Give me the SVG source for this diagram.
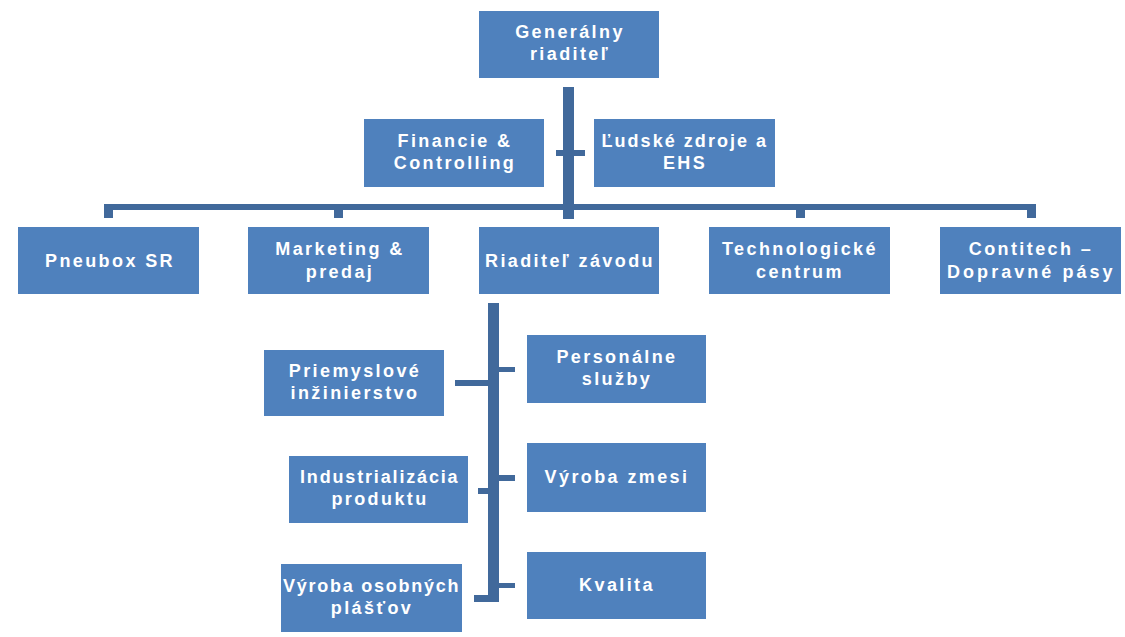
<svg xmlns="http://www.w3.org/2000/svg" width="1125" height="637" viewBox="0 0 1125 637">
  <style>
    .box { fill: #4F81BD; }
    .lbl { fill: #FFFFFF; font-family: "Liberation Sans", Arial, sans-serif; font-weight: bold; font-size: 18px; letter-spacing: 2.4px; text-anchor: middle; }
    .con { fill: #41699B; }
  </style>
  <rect width="1125" height="637" fill="#FFFFFF"/>

  <!-- connectors drawn as filled bars -->
  <g id="connectors">
    <!-- trunk from the general director -->
    <rect class="con" x="563" y="87" width="11" height="132"/>
    <rect class="con" x="556" y="150" width="29" height="6"/>
    <!-- horizontal bus to the second level -->
    <rect class="con" x="104" y="204" width="932" height="6"/>
    <rect class="con" x="104" y="204" width="9" height="14"/>
    <rect class="con" x="334" y="204" width="9" height="14"/>
    <rect class="con" x="796" y="204" width="9" height="14"/>
    <rect class="con" x="1027" y="204" width="9" height="14"/>
    <!-- trunk under the plant director -->
    <rect class="con" x="488" y="303" width="11" height="299"/>
    <rect class="con" x="455" y="380" width="33" height="6"/>
    <rect class="con" x="499" y="367" width="16" height="5"/>
    <rect class="con" x="478" y="488" width="10" height="6"/>
    <rect class="con" x="499" y="475" width="16" height="6"/>
    <rect class="con" x="499" y="583" width="16" height="5"/>
    <rect class="con" x="474" y="595" width="25" height="7"/>
  </g>

  <g id="generalny-riaditel">
    <rect class="box" x="479" y="11" width="180" height="67"/>
    <text class="lbl" x="570" y="38">Generálny</text>
    <text class="lbl" x="570" y="60">riaditeľ</text>
  </g>

  <g id="financie-controlling">
    <rect class="box" x="364" y="119" width="180" height="68"/>
    <text class="lbl" x="455" y="147">Financie &amp;</text>
    <text class="lbl" x="455" y="169">Controlling</text>
  </g>

  <g id="ludske-zdroje">
    <rect class="box" x="594" y="119" width="181" height="68"/>
    <text class="lbl" x="685" y="147" textLength="167" lengthAdjust="spacing">Ľudské zdroje a</text>
    <text class="lbl" x="685" y="169">EHS</text>
  </g>

  <g id="pneubox">
    <rect class="box" x="18" y="227" width="181" height="67"/>
    <text class="lbl" x="110" y="267">Pneubox SR</text>
  </g>

  <g id="marketing">
    <rect class="box" x="248" y="227" width="181" height="67"/>
    <text class="lbl" x="340" y="255">Marketing &amp;</text>
    <text class="lbl" x="340" y="278">predaj</text>
  </g>

  <g id="riaditel-zavodu">
    <rect class="box" x="479" y="227" width="180" height="67"/>
    <text class="lbl" x="570" y="267">Riaditeľ závodu</text>
  </g>

  <g id="technologicke-centrum">
    <rect class="box" x="709" y="227" width="181" height="67"/>
    <text class="lbl" x="800" y="255">Technologické</text>
    <text class="lbl" x="800" y="278">centrum</text>
  </g>

  <g id="contitech">
    <rect class="box" x="940" y="227" width="181" height="67"/>
    <text class="lbl" x="1031" y="255">Contitech –</text>
    <text class="lbl" x="1031" y="278" textLength="168" lengthAdjust="spacing">Dopravné pásy</text>
  </g>

  <g id="priemyslove-inzinierstvo">
    <rect class="box" x="264" y="350" width="180" height="66"/>
    <text class="lbl" x="355" y="377">Priemyslové</text>
    <text class="lbl" x="355" y="399">inžinierstvo</text>
  </g>

  <g id="personalne-sluzby">
    <rect class="box" x="527" y="335" width="179" height="68"/>
    <text class="lbl" x="617" y="363">Personálne</text>
    <text class="lbl" x="617" y="385">služby</text>
  </g>

  <g id="industrializacia">
    <rect class="box" x="289" y="456" width="179" height="67"/>
    <text class="lbl" x="380" y="483" textLength="160" lengthAdjust="spacing">Industrializácia</text>
    <text class="lbl" x="380" y="505">produktu</text>
  </g>

  <g id="vyroba-zmesi">
    <rect class="box" x="527" y="443" width="179" height="69"/>
    <text class="lbl" x="617" y="483">Výroba zmesi</text>
  </g>

  <g id="vyroba-plastov">
    <rect class="box" x="281" y="564" width="181" height="68"/>
    <text class="lbl" x="372" y="592" textLength="178" lengthAdjust="spacing">Výroba osobných</text>
    <text class="lbl" x="372" y="614">plášťov</text>
  </g>

  <g id="kvalita">
    <rect class="box" x="527" y="552" width="179" height="67"/>
    <text class="lbl" x="617" y="591">Kvalita</text>
  </g>
</svg>
